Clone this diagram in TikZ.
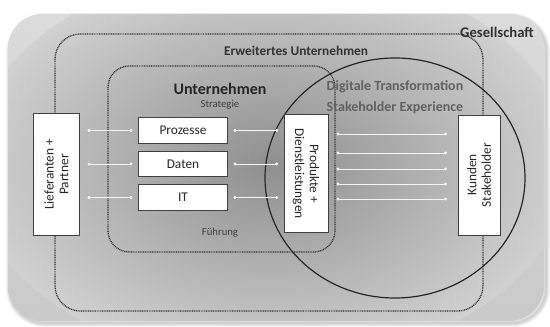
\documentclass[tikz,border=0pt]{standalone}
\usepackage{fontspec}
\setmainfont{Carlito}
\usetikzlibrary{arrows.meta,positioning}

\tikzset{
  labelbox/.style={draw=black!75, fill=white, line width=0.7pt, align=center,
    inner sep=1pt, font=\fontsize{10}{11}\selectfont, text=black!85},
  zone/.style={dash pattern=on 0.7pt off 0.6pt, line width=1pt, draw=black!80},
  link/.style={white!92!gray, line width=0.6pt, {Circle[length=2.2pt]}-{Circle[length=2.2pt]}},
  title/.style={font=\bfseries, text=black!80},
  subtitle/.style={font=\fontsize{8}{9}\selectfont, text=black!75},
}

\begin{document}
\begin{tikzpicture}[x=0.75pt, y=-0.75pt]
  \useasboundingbox (0,0) rectangle (550,327);

  % soft shadow and background of the society frame
  \foreach \i in {1,...,5}
    \draw[black, opacity=0.04, line width=\i*1.2pt, rounded corners=26pt]
      (10,17) rectangle (546,323);
  \shade[rounded corners=26pt, top color=gray!28, bottom color=gray!42]
    (8,14) rectangle (544,321);
  \begin{scope}
    \clip[rounded corners=26pt] (8,14) rectangle (544,321);
    \shade[inner color=gray!88, outer color=gray!36]
      (270,165) ellipse [x radius=300, y radius=200];
  \end{scope}

  % dotted zones
  \draw[zone, rounded corners=19pt] (55,34) rectangle (483,311);
  \draw[zone, rounded corners=16pt] (108,66) rectangle (335,252);

  % zone titles
  \node[title, font=\bfseries\fontsize{11}{13}\selectfont] (ges) at (497,32) {Gesellschaft};
  \node[title] (erw) at (296,51) {Erweitertes Unternehmen};
  \node[title, text=black!85, font=\bfseries\fontsize{12}{14}\selectfont] (unt) at (220,89) {Unternehmen};
  \node[subtitle] (strat) at (220,105) {Strategie};
  \node[subtitle] (fuehr) at (220,233) {Führung};
  \node[title, text=black!62, font=\bfseries\fontsize{10.5}{12}\selectfont] (dig) at (395,87) {Digitale Transformation};
  \node[title, text=black!62, font=\bfseries\fontsize{10.5}{12}\selectfont] (exp) at (395,108) {Stakeholder Experience};

  % digital transformation circle
  \draw[black!85, line width=0.9pt] (395,178) ellipse [x radius=130, y radius=120];

  % boxes
  \node[labelbox, rotate=90, minimum width=91pt, minimum height=34pt] (lief) at (56.5,174.5) {Lieferanten +\\Partner};
  \node[labelbox, minimum width=67pt, minimum height=19pt] (proz) at (183,130.5) {Prozesse};
  \node[labelbox, minimum width=67pt, minimum height=19pt] (daten) at (183,164) {Daten};
  \node[labelbox, minimum width=67pt, minimum height=19pt] (it) at (183,197.5) {IT};
  \node[labelbox, rotate=-90, minimum width=88pt, minimum height=33pt] (prod) at (306,173.5) {Produkte +\\Dienstleistungen};
  \node[labelbox, rotate=90, minimum width=90pt, minimum height=31.5pt] (kunden) at (479,175) {Kunden\\Stakeholder};

  % connectors
  \foreach \n in {proz,daten,it} {
    \draw[link, shorten <=6pt, shorten >=4pt] (\n.west -| lief.south) -- (\n.west);
    \draw[link, shorten <=4pt, shorten >=4pt] (\n.east) -- (\n.east -| prod.south);
  }
  \foreach \y in {134,153,169,184,199}
    \draw[link, shorten <=6pt, shorten >=8pt] (prod.north |- 0,\y) -- (kunden.north |- 0,\y);
\end{tikzpicture}
\end{document}
